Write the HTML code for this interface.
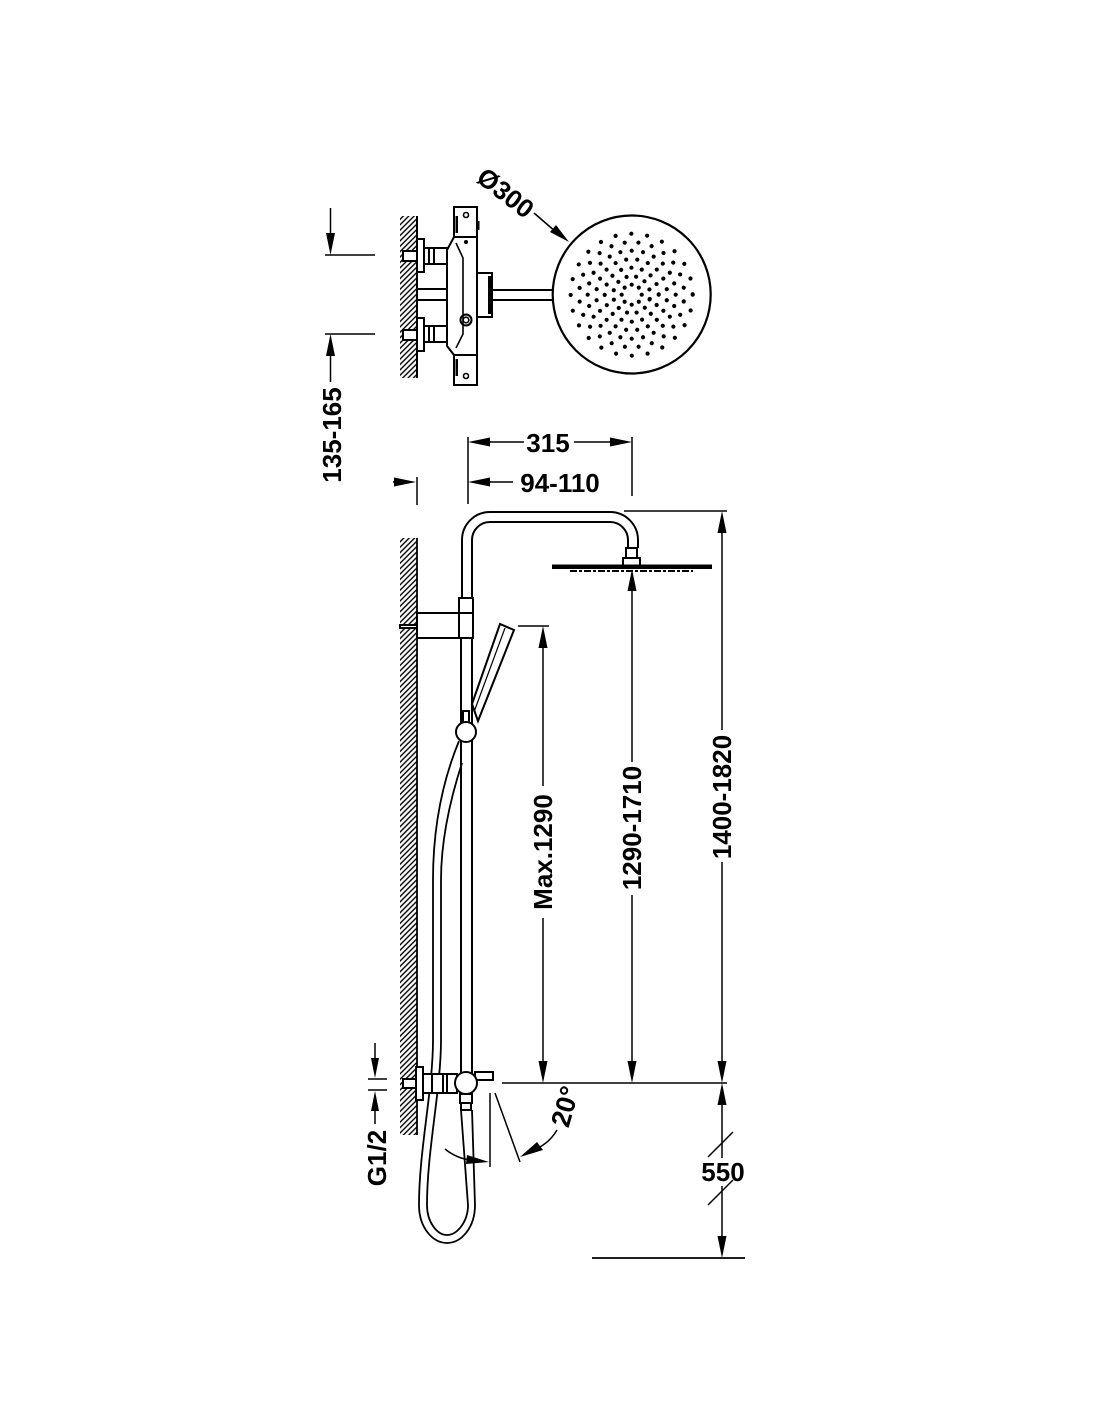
<!DOCTYPE html>
<html><head><meta charset="utf-8"><style>
html,body{margin:0;padding:0;background:#fff;}
svg{display:block;}
text{font-family:"Liberation Sans",Arial,sans-serif;font-weight:bold;fill:#000;}
</style></head><body>
<svg width="1100" height="1422" viewBox="0 0 1100 1422" xmlns="http://www.w3.org/2000/svg">
<defs>
<pattern id="hatch" patternUnits="userSpaceOnUse" width="3.8" height="3.8" patternTransform="rotate(45)">
<line x1="1" y1="0" x2="1" y2="3.8" stroke="#000" stroke-width="1.4"/>
</pattern>
</defs>
<rect width="1100" height="1422" fill="#fff"/>

<!-- ================= TOP VIEW ================= -->
<g stroke="#000" fill="none">
<line x1="330.5" y1="208" x2="330.5" y2="240" stroke-width="1.5"/>
<line x1="325" y1="255" x2="375" y2="255" stroke-width="1.5"/>
<line x1="325" y1="334" x2="375" y2="334" stroke-width="1.5"/>
<line x1="330.5" y1="350" x2="330.5" y2="382" stroke-width="1.5"/>
</g>
<polygon points="330.5,255 326,233 335,233" fill="#000"/>
<polygon points="330.5,334 326,356 335,356" fill="#000"/>
<text transform="translate(341,435) rotate(-90)" text-anchor="middle" font-size="26">135-165</text>

<rect x="400" y="216" width="17" height="162" fill="url(#hatch)"/>
<line x1="417" y1="216" x2="417" y2="378" stroke="#000" stroke-width="2"/>

<g stroke="#000" stroke-width="2" fill="#fff">
<rect x="403" y="251" width="14" height="10"/>
<rect x="417" y="239" width="7" height="33"/>
<rect x="424" y="248" width="23" height="16"/>
<rect x="403" y="330" width="14" height="10"/>
<rect x="417" y="318" width="7" height="33"/>
<rect x="424" y="326" width="23" height="16"/>
</g>
<g stroke="#000" stroke-width="2">
<line x1="429" y1="248" x2="429" y2="264"/>
<line x1="434" y1="248" x2="434" y2="264"/>
<line x1="429" y1="326" x2="429" y2="342"/>
<line x1="434" y1="326" x2="434" y2="342"/>
<line x1="417" y1="289" x2="447" y2="289"/>
<line x1="417" y1="300" x2="447" y2="300"/>
</g>
<g stroke="#000" stroke-width="2" fill="#fff">
<path d="M454,237 H477 V355 H454 L447,346 V250 Z"/>
<rect x="454" y="207" width="23" height="30"/>
<rect x="454" y="355" width="23" height="30"/>
<rect x="477" y="273" width="15" height="44"/>
</g>
<g stroke="#000" fill="none" stroke-width="1.6">
<path d="M456,243 L463,258 V334 L456,348"/>
<circle cx="466" cy="215" r="2.5"/>
<circle cx="466" cy="376" r="2.5"/>
<circle cx="466" cy="320" r="5.5" stroke-width="2"/>
<circle cx="466" cy="320" r="2.8"/>
</g>
<rect x="455.5" y="216" width="2.5" height="17" fill="#000"/>
<rect x="455.5" y="359" width="2.5" height="17" fill="#000"/>
<rect x="477" y="221" width="2.5" height="9" fill="#000"/>
<circle cx="466" cy="242" r="2" fill="#000"/>
<rect x="488" y="276" width="3" height="38" fill="#000"/>
<g stroke="#000" stroke-width="2">
<line x1="492" y1="290" x2="553" y2="290"/>
<line x1="492" y1="300" x2="553" y2="300"/>
</g>
<circle cx="631.7" cy="294.5" r="79" stroke="#000" stroke-width="2.2" fill="#fff"/>
<g fill="none" stroke="#000" stroke-width="4.2" stroke-linecap="round" stroke-dasharray="0 1">
<circle cx="631.7" cy="294.7" r="10" pathLength="8"/>
<circle cx="631.7" cy="294.7" r="18.5" pathLength="12" transform="rotate(15 631.7 294.7)"/>
<circle cx="631.7" cy="294.7" r="27" pathLength="16"/>
<circle cx="631.7" cy="294.7" r="35.5" pathLength="20" transform="rotate(9 631.7 294.7)"/>
<circle cx="631.7" cy="294.7" r="44" pathLength="24"/>
<circle cx="631.7" cy="294.7" r="52.5" pathLength="24" transform="rotate(7.5 631.7 294.7)"/>
<circle cx="631.7" cy="294.7" r="61" pathLength="24"/>
</g>
<text transform="translate(500,200) rotate(38)" text-anchor="middle" font-size="26">Ø300</text>
<line x1="534" y1="213" x2="556" y2="232" stroke="#000" stroke-width="1.6"/>
<polygon points="569,242 550,232 556,225" fill="#000"/>

<!-- ================= SIDE VIEW ================= -->
<g stroke="#000" stroke-width="1.5">
<line x1="468" y1="437" x2="468" y2="504"/>
<line x1="632" y1="437" x2="632" y2="496"/>
<line x1="417" y1="477" x2="417" y2="505"/>
<line x1="488" y1="442" x2="524" y2="442"/>
<line x1="574" y1="442" x2="612" y2="442"/>
<line x1="488" y1="482" x2="513" y2="482"/>
<line x1="393" y1="482" x2="400" y2="482"/>
</g>
<polygon points="468,442 490,437.5 490,446.5" fill="#000"/>
<polygon points="632,442 610,437.5 610,446.5" fill="#000"/>
<polygon points="468,482 490,477.5 490,486.5" fill="#000"/>
<polygon points="416,482 394,477.5 394,486.5" fill="#000"/>
<text x="548" y="452" text-anchor="middle" font-size="26">315</text>
<text x="560" y="492" text-anchor="middle" font-size="26">94-110</text>

<rect x="400" y="538" width="17" height="597" fill="url(#hatch)"/>
<line x1="417" y1="538" x2="417" y2="1135" stroke="#000" stroke-width="1.8"/>

<g stroke="#000" stroke-width="2" fill="none">
<path d="M462,598 V540 A28,28 0 0 1 490,512 H610 A28,28 0 0 1 638,540 V548"/>
<path d="M472,598 V540 A18,18 0 0 1 490,522 H610 A18,18 0 0 1 628,540 V548"/>
</g>
<g stroke="#000" stroke-width="2" fill="#fff">
<rect x="626" y="548" width="11" height="10"/>
<rect x="623" y="558" width="17" height="8"/>
</g>
<rect x="552" y="564.5" width="160" height="4.5" fill="#000"/>
<line x1="570" y1="571" x2="693" y2="571" stroke="#000" stroke-width="2" stroke-dasharray="7 2 3 2"/>

<g stroke="#000" stroke-width="2">
<line x1="461" y1="638" x2="461" y2="1074"/>
<line x1="472" y1="638" x2="472" y2="1074"/>
</g>
<g stroke="#000" stroke-width="1.8" fill="none">
<path d="M459,741 C445,775 433,820 433,880 L433,1040 C433,1090 419,1150 419,1205 C419,1228 433,1243 447,1243 C461,1243 475,1228 475,1205 L472,1110"/>
<path d="M462,763 C450,800 441,840 441,880 L441,1040 C441,1090 427,1150 427,1205 C427,1222 437,1235 447,1235 C457,1235 468,1222 468,1205 L461,1110"/>
</g>
<g stroke="#000" stroke-width="2" fill="#fff">
<rect x="459" y="598" width="14" height="15"/>
<rect x="417" y="613" width="44" height="25"/>
<rect x="459" y="613" width="14" height="25"/>
<rect x="400" y="625" width="17" height="3"/>
<polygon points="472,704 500,624 514,630 478,721"/>
<rect x="463" y="711" width="6" height="12"/>
<circle cx="466" cy="732" r="10"/>
</g>
<line x1="505" y1="628" x2="474" y2="712" stroke="#000" stroke-width="1.2"/>

<g stroke="#000" stroke-width="2" fill="#fff">
<rect x="403" y="1079" width="13" height="9"/>
<rect x="416" y="1067" width="7" height="33"/>
<rect x="423" y="1074" width="34" height="19"/>
<rect x="475" y="1072" width="18" height="8"/>
<rect x="461" y="1102" width="10" height="8"/>
<rect x="460" y="1094" width="12" height="9"/>
<circle cx="466" cy="1083" r="11"/>
</g>
<g stroke="#000" stroke-width="2">
<line x1="432" y1="1074" x2="432" y2="1093"/>
<line x1="443" y1="1074" x2="443" y2="1093"/>
<line x1="447" y1="1074" x2="447" y2="1093"/>
</g>

<g stroke="#000" stroke-width="1.5">
<line x1="375" y1="1043" x2="375" y2="1060"/>
<line x1="368" y1="1079" x2="387" y2="1079"/>
<line x1="368" y1="1090" x2="387" y2="1090"/>
<line x1="375" y1="1108" x2="375" y2="1124"/>
</g>
<polygon points="375,1078 371,1058 379,1058" fill="#000"/>
<polygon points="375,1091 371,1111 379,1111" fill="#000"/>
<text transform="translate(386,1158) rotate(-90)" text-anchor="middle" font-size="26">G1/2</text>

<g stroke="#000" stroke-width="1.5" fill="none">
<line x1="490" y1="1093" x2="490" y2="1167"/>
<line x1="495" y1="1093" x2="520" y2="1162"/>
<path d="M445,1149 Q456,1158 470,1160"/>
<path d="M557,1130 Q550,1142 538,1148"/>
</g>
<polygon points="489,1162 467,1155 466,1164" fill="#000"/>
<polygon points="520,1157 537,1142 543,1150" fill="#000"/>
<text transform="translate(574,1109) rotate(-74)" text-anchor="middle" font-size="27">20°</text>

<line x1="502" y1="1083" x2="727" y2="1083" stroke="#000" stroke-width="1.6"/>

<g stroke="#000" stroke-width="1.5">
<line x1="518" y1="626" x2="549" y2="626"/>
<line x1="543" y1="640" x2="543" y2="786"/>
<line x1="543" y1="918" x2="543" y2="1066"/>
</g>
<polygon points="543,626 538.5,648 547.5,648" fill="#000"/>
<polygon points="543,1083 538.5,1061 547.5,1061" fill="#000"/>
<text transform="translate(552,852) rotate(-90)" text-anchor="middle" font-size="26">Max.1290</text>

<g stroke="#000" stroke-width="1.5">
<line x1="632" y1="585" x2="632" y2="762"/>
<line x1="632" y1="895" x2="632" y2="1066"/>
</g>
<polygon points="632,569 627.5,591 636.5,591" fill="#000"/>
<polygon points="632,1083 627.5,1061 636.5,1061" fill="#000"/>
<text transform="translate(641,828) rotate(-90)" text-anchor="middle" font-size="26">1290-1710</text>

<g stroke="#000" stroke-width="1.5">
<line x1="624" y1="511" x2="727" y2="511"/>
<line x1="722" y1="528" x2="722" y2="730"/>
<line x1="722" y1="862" x2="722" y2="1066"/>
</g>
<polygon points="722,511 717.5,533 726.5,533" fill="#000"/>
<polygon points="722,1083 717.5,1061 726.5,1061" fill="#000"/>
<text transform="translate(731,797) rotate(-90)" text-anchor="middle" font-size="26">1400-1820</text>

<g stroke="#000" stroke-width="1.5">
<line x1="722" y1="1100" x2="722" y2="1158"/>
<line x1="722" y1="1186" x2="722" y2="1242"/>
<line x1="708" y1="1157" x2="733" y2="1132"/>
<line x1="708" y1="1205" x2="733" y2="1180"/>
<line x1="592" y1="1258" x2="745" y2="1258" stroke-width="1.8"/>
</g>
<polygon points="722,1083 717.5,1105 726.5,1105" fill="#000"/>
<polygon points="722,1258 717.5,1236 726.5,1236" fill="#000"/>
<text x="723" y="1181" text-anchor="middle" font-size="26">550</text>
</svg>
</body></html>
